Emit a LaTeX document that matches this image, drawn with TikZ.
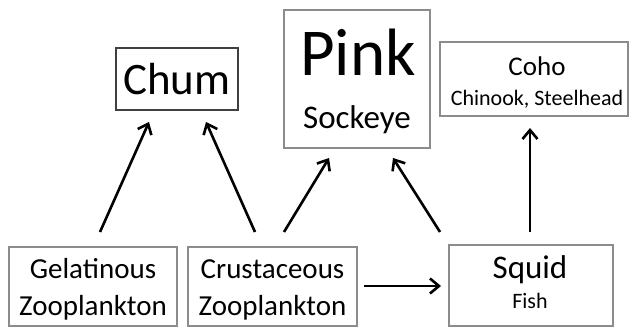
\documentclass[tikz,border=0pt]{standalone}
\usepackage{fontspec}
\setmainfont{Carlito}
\usetikzlibrary{arrows.meta}
\begin{document}
\begin{tikzpicture}[x=1pt,y=-1pt,
  box/.style={draw=black!45,line width=1.3pt,inner sep=0pt,fill=white},
  txt/.style={anchor=base,inner sep=0pt},
  arr/.style={line width=2.6pt,-{Straight Barb[length=9pt,width=15pt,line width=2.6pt]}}]
\useasboundingbox (0,0) rectangle (629,329);
\node[box,draw=black!75,minimum width=122pt,minimum height=62pt] (chum) at (177,79) {};
\node[box,minimum width=146pt,minimum height=138pt] (pink) at (357,79) {};
\node[box,minimum width=188pt,minimum height=74pt] (coho) at (534,79) {};
\node[box,minimum width=168pt,minimum height=79pt] (gel) at (93,286.5) {};
\node[box,minimum width=169pt,minimum height=79pt] (crust) at (272.5,286.5) {};
\node[box,minimum width=164pt,minimum height=81pt] (squid) at (531,285.5) {};
\node[txt,font=\fontsize{45}{50}\selectfont] (tchum) at (177,94) {Chum};
\node[txt,font=\fontsize{67}{70}\selectfont] (tpink) at (358,75) {Pink};
\node[txt,font=\fontsize{33}{36}\selectfont] (tsock) at (357,128) {Sockeye};
\node[txt,font=\fontsize{27}{30}\selectfont] (tcoho) at (537,75) {Coho};
\node[txt,font=\fontsize{22}{26}\selectfont] (tchin) at (537,105) {Chinook, Steelhead};
\node[txt,font=\fontsize{29}{32}\selectfont] (tgel) at (93,278) {Gelatinous};
\node[txt,font=\fontsize{29}{32}\selectfont] (tzoo1) at (93,315) {Zooplankton};
\node[txt,font=\fontsize{29}{32}\selectfont] (tcru) at (272.5,278) {Crustaceous};
\node[txt,font=\fontsize{29}{32}\selectfont] (tzoo2) at (272.5,315) {Zooplankton};
\node[txt,font=\fontsize{33}{36}\selectfont] (tsquid) at (530,278) {Squid};
\node[txt,font=\fontsize{22}{26}\selectfont] (tfish) at (530,308) {Fish};
\coordinate (g1) at (100,232); \coordinate (c1) at (149,122);
\coordinate (k1) at (255,232); \coordinate (c2) at (206,122);
\coordinate (k2) at (284,232); \coordinate (p1) at (329,158);
\coordinate (s1) at (440,232); \coordinate (p2) at (393,158);
\coordinate (s2) at (530,232); \coordinate (h1) at (530,128);
\coordinate (k3) at (364,286); \coordinate (s3) at (441,286);
\draw[arr] (g1) -- (c1);
\draw[arr] (k1) -- (c2);
\draw[arr] (k2) -- (p1);
\draw[arr] (s1) -- (p2);
\draw[arr] (s2) -- (h1);
\draw[arr] (k3) -- (s3);
\end{tikzpicture}
\end{document}
